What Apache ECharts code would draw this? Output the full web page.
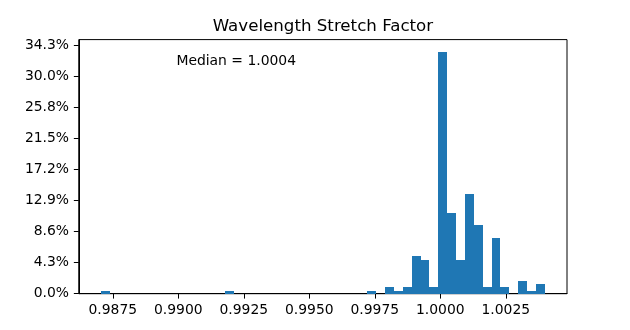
<!DOCTYPE html>
<html>
<head>
<meta charset="utf-8">
<script src="https://cdn.jsdelivr.net/npm/echarts@6/dist/echarts.min.js"></script>
<style>
html,body{margin:0;padding:0;background:#fff;}
#chart{width:630px;height:330px;}
</style>
</head>
<body>
<div id="chart"></div>
<script>
// Histogram of wavelength stretch factor: 50 bins, counts per bin (total 233)
var binStart = 0.987048;
var binWidth = 0.00033884;
var binCounts = [
  1, 0, 0, 0, 0, 0, 0, 0, 0, 0,
  0, 0, 0, 0, 1, 0, 0, 0, 0, 0,
  0, 0, 0, 0, 0, 0, 0, 0, 0, 0,
  1, 0, 2, 1, 2, 12, 11, 2, 78, 26,
  11, 32, 22, 2, 18, 2, 0, 4, 1, 3
];
var totalCount = 233;
var xTickValues = [0.9875, 0.9900, 0.9925, 0.9950, 0.9975, 1.0000, 1.0025];
var yTickCounts = [0, 10, 20, 30, 40, 50, 60, 70, 80];
var xMin = 0.986201, xMax = 1.004836;
var yMaxCount = 81.9;
var titleText = 'Wavelength Stretch Factor';
var medianText = 'Median = 1.0004';

function pct(c) { return c / totalCount * 100; }
var barData = binCounts.map(function (c, i) {
  return [binStart + i * binWidth, binStart + (i + 1) * binWidth, pct(c)];
});
var yTickValues = yTickCounts.map(pct);

var FONT = '"DejaVu Sans", sans-serif';
var chart = echarts.init(document.getElementById('chart'), null, {renderer: 'canvas', width: 630, height: 330});
chart.setOption({
  backgroundColor: '#ffffff',
  animation: false,
  grid: {left: 78.75, right: 63, top: 39.6, bottom: 36.3, containLabel: false, outerBoundsMode: 'none',
         show: true, borderColor: '#000', borderWidth: 1, backgroundColor: 'transparent'},
  xAxis: {
    type: 'value', min: xMin, max: xMax,
    axisLine: {show: true, onZero: false, lineStyle: {color: '#000', width: 1}},
    axisTick: {show: true, inside: false, length: 4.9, customValues: xTickValues, lineStyle: {color: '#000', width: 1}},
    axisLabel: {show: true, customValues: xTickValues, margin: 9.7, color: '#000', fontFamily: FONT, fontSize: 13.9,
      formatter: function (v) { return v.toFixed(4); }},
    splitLine: {show: false}
  },
  yAxis: {
    type: 'value', min: 0, max: pct(yMaxCount),
    axisLine: {show: true, lineStyle: {color: '#000', width: 1}},
    axisTick: {show: true, inside: false, length: 4.9, customValues: yTickValues, lineStyle: {color: '#000', width: 1}},
    axisLabel: {show: true, customValues: yTickValues, margin: 9.7, color: '#000', fontFamily: FONT, fontSize: 13.9,
      formatter: function (v) { return v.toFixed(1) + '%'; }},
    splitLine: {show: false}
  },
  graphic: [
    {type: 'text', style: {x: 322.9, y: 18.2, text: titleText, font: '16.67px ' + FONT, fill: '#000', align: 'center', verticalAlign: 'top'}},
    {type: 'text', style: {x: 176.4, y: 54.2, text: medianText, font: '13.9px ' + FONT, fill: '#000', align: 'left', verticalAlign: 'top'}}
  ],
  series: [{
    type: 'custom',
    data: barData,
    encode: {x: [0, 1], y: 2},
    renderItem: function (params, api) {
      var p0 = api.coord([api.value(0), 0]);
      var p1 = api.coord([api.value(1), api.value(2)]);
      var x0 = Math.round(p0[0]), x1 = Math.round(p1[0]);
      var yb = Math.round(p0[1]), yt = Math.round(p1[1]);
      return {
        type: 'rect',
        shape: {x: x0, y: yt, width: x1 - x0, height: yb - yt},
        style: {fill: '#1f77b4'}
      };
    }
  }]
});
</script>
</body>
</html>
